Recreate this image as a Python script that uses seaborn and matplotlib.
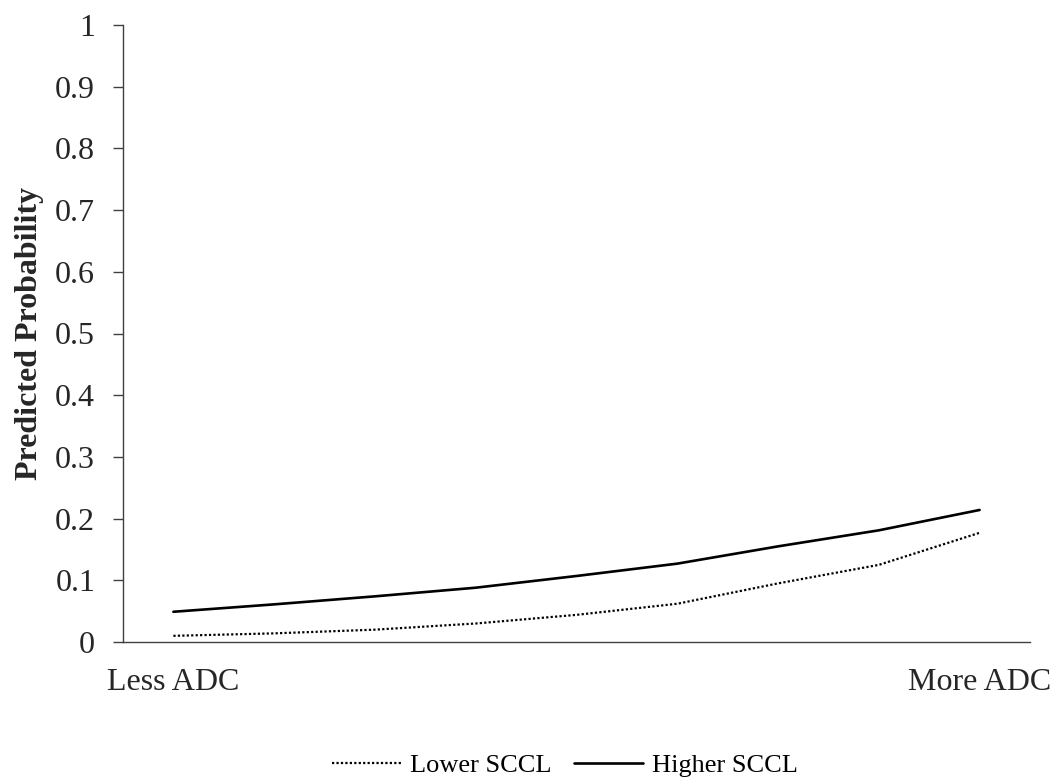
import numpy as np
import pandas as pd
import matplotlib
matplotlib.use("Agg")
import matplotlib.pyplot as plt
import seaborn as sns

# Predicted probability across nine ADC levels for the two SCCL groups
adc_level = [0, 1, 2, 3, 4, 5, 6, 7, 8]
lower_sccl = [0.010, 0.014, 0.020, 0.030, 0.044, 0.062, 0.095, 0.125, 0.177]
higher_sccl = [0.049, 0.061, 0.074, 0.088, 0.107, 0.127, 0.155, 0.181, 0.214]
series_names = ["Lower SCCL", "Higher SCCL"]
x_tick_labels = ["Less ADC", "More ADC"]
y_ticks = [0, 0.1, 0.2, 0.3, 0.4, 0.5, 0.6, 0.7, 0.8, 0.9, 1]

df = pd.DataFrame({
    "ADC": adc_level * 2,
    "Probability": lower_sccl + higher_sccl,
    "Group": [series_names[0]] * len(adc_level) + [series_names[1]] * len(adc_level),
})

sns.set_theme(style="white")
plt.rcParams["font.family"] = ["Liberation Serif", "DejaVu Serif"]
plt.rcParams["text.color"] = "black"

fig = plt.figure(figsize=(10.55, 7.78), dpi=100)
ax = fig.add_axes([123 / 1055, 1 - 642 / 778, (1030 - 123) / 1055, (642 - 25) / 778])

sns.lineplot(
    data=df, x="ADC", y="Probability", hue="Group", style="Group",
    palette={series_names[0]: "black", series_names[1]: "black"},
    dashes={series_names[0]: (1, 1), series_names[1]: ""},
    linewidth=1.9, ax=ax, legend=False,
)
# slightly thinner dotted line
ax.lines[0].set_linewidth(1.6)

ax.set_xlim(adc_level[0] - 0.5, adc_level[-1] + 0.5)
ax.set_ylim(0, 1)
ax.set_yticks(y_ticks)
ax.set_yticklabels([f"{v:g}" for v in y_ticks])
ax.set_xticks([adc_level[0], adc_level[-1]])
ax.set_xticklabels(x_tick_labels)

ax.tick_params(axis="y", which="major", direction="out", length=7, width=1.0,
               color="#404040", pad=13, labelsize=23, left=True)
ax.tick_params(axis="x", which="major", length=0, pad=19, labelsize=23)

for side in ["top", "right"]:
    ax.spines[side].set_visible(False)
for side in ["left", "bottom"]:
    ax.spines[side].set_color("#404040")
    ax.spines[side].set_linewidth(1.0)

ax.set_xlabel("")
ax.set_ylabel("Predicted Probability", fontsize=23, fontweight="bold")
ax.yaxis.set_label_coords(-0.087, 0.5)

handles = [
    plt.Line2D([], [], color="black", linewidth=1.6, linestyle=(0, (1, 1))),
    plt.Line2D([], [], color="black", linewidth=1.9),
]
fig.legend(handles, series_names, loc="center", bbox_to_anchor=(565 / 1055, 1 - 765 / 778),
           ncol=2, frameon=False, fontsize=19, handlelength=2.6, handletextpad=0.35,
           columnspacing=0.85)

fig.savefig("out.png", dpi=100)
